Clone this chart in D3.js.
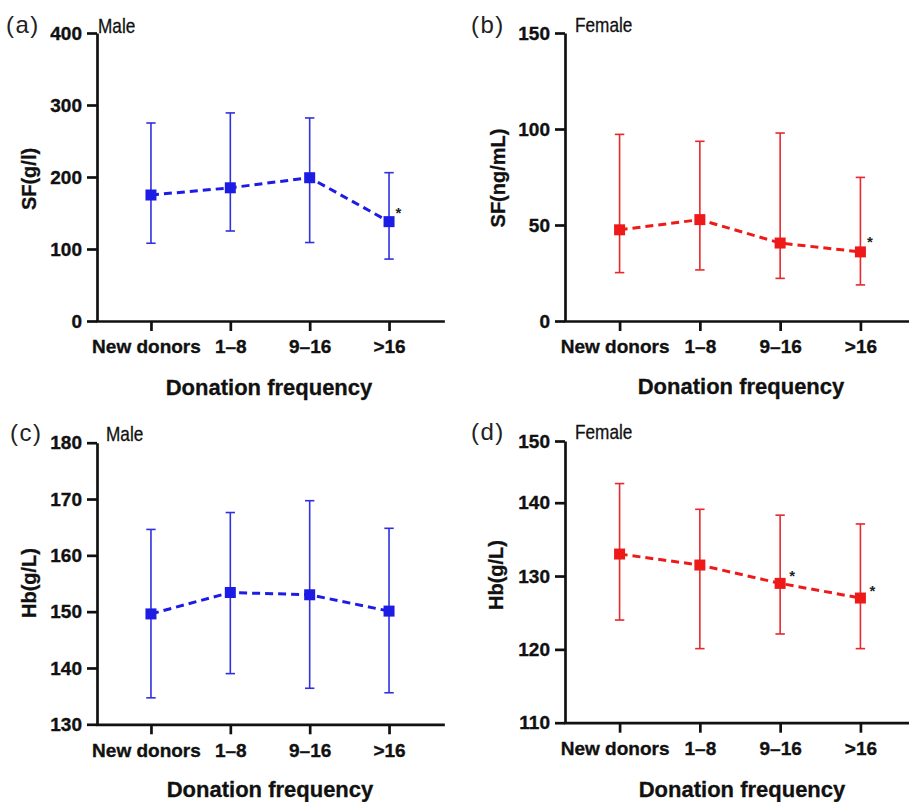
<!DOCTYPE html>
<html>
<head>
<meta charset="utf-8">
<script src="https://cdn.jsdelivr.net/npm/d3@7"></script>
<style>
  html, body { margin: 0; padding: 0; background: #fff; }
  svg { display: block; }
</style>
</head>
<body>
<svg id="chart" width="909" height="802"></svg>
<script>
// ---- data ----
const categories = ["New donors", "1–8", "9–16", ">16"];

const sfMaleMean  = [175, 185, 199, 138];
const sfMaleUpper = [275, 289, 282, 206];
const sfMaleLower = [108, 125, 109, 86];
const sfMaleStars = [0, 0, 0, 1];
const sfMaleTicks = [0, 100, 200, 300, 400];

const sfFemaleMean  = [47.5, 52.8, 40.6, 36.0];
const sfFemaleUpper = [97.2, 93.6, 97.9, 74.8];
const sfFemaleLower = [25.2, 26.6, 22.2, 18.8];
const sfFemaleStars = [0, 0, 0, 1];
const sfFemaleTicks = [0, 50, 100, 150];

const hbMaleMean  = [149.6, 153.4, 153.0, 150.1];
const hbMaleUpper = [164.6, 167.6, 169.7, 164.8];
const hbMaleLower = [134.7, 139.0, 136.4, 135.6];
const hbMaleStars = [0, 0, 0, 0];
const hbMaleTicks = [130, 140, 150, 160, 170, 180];

const hbFemaleMean  = [133.0, 131.5, 129.0, 127.0];
const hbFemaleUpper = [143.1, 139.1, 138.3, 137.1];
const hbFemaleLower = [124.0, 120.1, 122.1, 120.1];
const hbFemaleStars = [0, 0, 1, 1];
const hbFemaleTicks = [110, 120, 130, 140, 150];

const BLUE = "#1c1ce4", BLUE_BAR = "#3030e0";
const RED = "#ee1a1a", RED_BAR = "#e8282c";

const svg = d3.select("#chart");
const FONT = 'Arial, "Liberation Sans", Helvetica, sans-serif';

function panel(cfg) {
  const g = svg.append("g");
  const x = d3.scalePoint().domain(categories).range([cfg.x0, cfg.x0 + cfg.w]).padding(0.68);
  const y = d3.scaleLinear().domain(cfg.domain).range(cfg.range);

  // axes
  const yAxis = d3.axisLeft(y).tickValues(cfg.ticks).tickSize(10).tickSizeOuter(0).tickPadding(5);
  const gy = g.append("g").attr("transform", `translate(${cfg.x0},0)`).call(yAxis);
  const xAxis = d3.axisBottom(x).tickSize(10).tickSizeOuter(0).tickPadding(9);
  const gx = g.append("g").attr("transform", `translate(0,${y(cfg.domain[0])})`).call(xAxis);
  [gy, gx].forEach(a => {
    a.attr("font-family", FONT).attr("font-size", 19);
    a.selectAll(".domain, .tick line").attr("stroke", "#111").attr("stroke-width", 2.7);
    a.selectAll(".tick text").attr("font-family", FONT).attr("font-size", 19)
      .attr("font-weight", "bold").attr("fill", "#111")
      .attr("stroke", "#111").attr("stroke-width", 0.35);
  });
  gx.selectAll(".tick text").filter(d => d === categories[0]).attr("dx", -5);
  gx.selectAll(".domain").attr("stroke-linecap", "square");

  const data = categories.map((c, i) => ({
    c, m: cfg.mean[i], hi: cfg.upper[i], lo: cfg.lower[i], star: cfg.stars[i]
  }));

  // error bars
  const eb = g.append("g").attr("stroke", cfg.barColor).attr("stroke-width", 1.6);
  eb.selectAll("line.v").data(data).join("line")
    .attr("x1", d => x(d.c)).attr("x2", d => x(d.c))
    .attr("y1", d => y(d.hi)).attr("y2", d => y(d.lo));
  eb.selectAll("line.t").data(data).join("line")
    .attr("x1", d => x(d.c) - 4.7).attr("x2", d => x(d.c) + 4.7)
    .attr("y1", d => y(d.hi)).attr("y2", d => y(d.hi));
  eb.selectAll("line.b").data(data).join("line")
    .attr("x1", d => x(d.c) - 4.7).attr("x2", d => x(d.c) + 4.7)
    .attr("y1", d => y(d.lo)).attr("y2", d => y(d.lo));

  // dashed line
  const line = d3.line().x(d => x(d.c)).y(d => y(d.m));
  g.append("path").datum(data).attr("d", line)
    .attr("fill", "none").attr("stroke", cfg.color).attr("stroke-width", 3)
    .attr("stroke-dasharray", "8,5");

  // markers
  const s = 11;
  g.selectAll("rect.mk").data(data).join("rect")
    .attr("x", d => x(d.c) - s / 2).attr("y", d => y(d.m) - s / 2)
    .attr("width", s).attr("height", s).attr("fill", cfg.color);

  // stars
  g.selectAll("text.star").data(data.filter(d => d.star)).join("text")
    .attr("x", d => x(d.c) + cfg.starDx).attr("y", d => y(d.m) + cfg.starDy)
    .attr("text-anchor", "middle").attr("font-family", FONT).attr("font-weight", "bold")
    .attr("font-size", 15).attr("fill", "#222").text("*");

  // panel letter
  g.append("text").attr("x", cfg.letterX).attr("y", cfg.letterY)
    .attr("font-family", FONT).attr("font-size", 24).attr("letter-spacing", 1.5)
    .attr("fill", "#222").text(cfg.letter);
  // sex label (condensed look)
  g.append("text").attr("transform", `translate(${cfg.sexX},${cfg.sexY}) scale(0.86,1)`)
    .attr("font-family", FONT).attr("font-size", 20).attr("fill", "#111")
    .attr("stroke", "#111").attr("stroke-width", 0.3).text(cfg.sex);
  // y label
  g.append("text")
    .attr("transform", `translate(${cfg.ylX},${cfg.ylY}) rotate(-90)`)
    .attr("text-anchor", "middle").attr("dy", "0.36em")
    .attr("font-family", FONT).attr("font-weight", "bold").attr("font-size", 20).attr("fill", "#111")
    .attr("stroke", "#111").attr("stroke-width", 0.3)
    .text(cfg.ylabel);
  // x label
  g.append("text").attr("x", cfg.xlX).attr("y", cfg.xlY).attr("text-anchor", "middle")
    .attr("font-family", FONT).attr("font-weight", "bold").attr("font-size", 22).attr("fill", "#111")
    .attr("stroke", "#111").attr("stroke-width", 0.3)
    .text("Donation frequency");
}

panel({
  x0: 97, w: 346, domain: [0, 400], range: [321, 33], ticks: sfMaleTicks,
  mean: sfMaleMean, upper: sfMaleUpper, lower: sfMaleLower, stars: sfMaleStars,
  color: BLUE, barColor: BLUE_BAR, starDx: 9.5, starDy: -4,
  letter: "(a)", letterX: 6, letterY: 33, sex: "Male", sexX: 98, sexY: 33,
  ylabel: "SF(g/l)", ylX: 29, ylY: 179, xlX: 269, xlY: 395
});
panel({
  x0: 565, w: 350, domain: [0, 150], range: [321, 33], ticks: sfFemaleTicks,
  mean: sfFemaleMean, upper: sfFemaleUpper, lower: sfFemaleLower, stars: sfFemaleStars,
  color: RED, barColor: RED_BAR, starDx: 9.5, starDy: -5,
  letter: "(b)", letterX: 471, letterY: 33, sex: "Female", sexX: 575, sexY: 32,
  ylabel: "SF(ng/mL)", ylX: 498, ylY: 178, xlX: 741, xlY: 394
});
panel({
  x0: 97, w: 346, domain: [130, 180], range: [724.3, 442.7], ticks: hbMaleTicks,
  mean: hbMaleMean, upper: hbMaleUpper, lower: hbMaleLower, stars: hbMaleStars,
  color: BLUE, barColor: BLUE_BAR, starDx: 10, starDy: -4,
  letter: "(c)", letterX: 10, letterY: 441, sex: "Male", sexX: 106, sexY: 441,
  ylabel: "Hb(g/L)", ylX: 29, ylY: 583, xlX: 270, xlY: 797
});
panel({
  x0: 565, w: 350, domain: [110, 140, 150], range: [722.7, 502.7, 441], ticks: hbFemaleTicks,
  mean: hbFemaleMean, upper: hbFemaleUpper, lower: hbFemaleLower, stars: hbFemaleStars,
  color: RED, barColor: RED_BAR, starDx: 12, starDy: -2,
  letter: "(d)", letterX: 471, letterY: 440, sex: "Female", sexX: 575, sexY: 439,
  ylabel: "Hb(g/L)", ylX: 496, ylY: 575, xlX: 742, xlY: 797
});
</script>
</body>
</html>
